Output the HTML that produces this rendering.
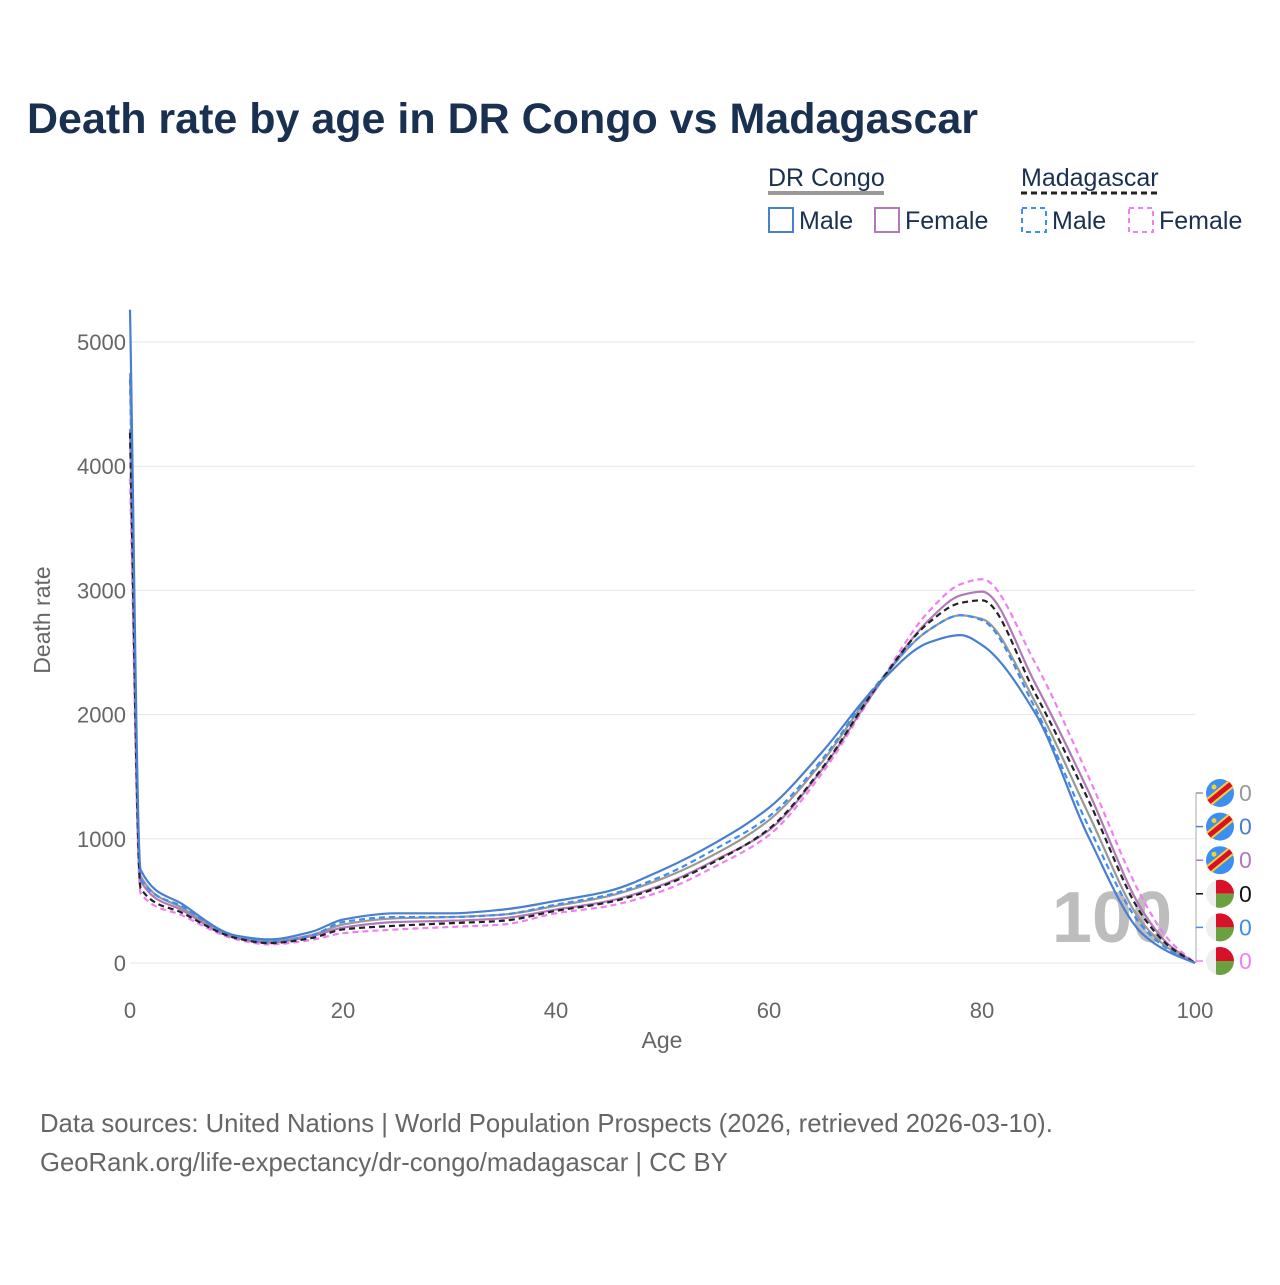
<!DOCTYPE html>
<html><head><meta charset="utf-8"><style>
body{margin:0;background:#fff;font-family:"Liberation Sans",sans-serif}
svg text{font-family:"Liberation Sans",sans-serif}
</style></head><body>
<svg id="c" width="1280" height="1280" viewBox="0 0 1280 1280" xmlns="http://www.w3.org/2000/svg">
<rect width="1280" height="1280" fill="#fff"/>
<text x="27" y="133" font-size="43" font-weight="bold" fill="#1a3050">Death rate by age in DR Congo vs Madagascar</text>
<g>
<text x="768" y="186" font-size="25" fill="#1a3050">DR Congo</text>
<line x1="768" y1="193" x2="884" y2="193" stroke="#999" stroke-width="4"/>
<text x="1021" y="186" font-size="25" fill="#1a3050">Madagascar</text>
<line x1="1021" y1="193" x2="1159" y2="193" stroke="#222" stroke-width="3" stroke-dasharray="6,4"/>
<rect x="769" y="208" width="24" height="24" fill="none" stroke="#4a7fd0" stroke-width="2"/>
<text x="799" y="229" font-size="25" fill="#1a3050">Male</text>
<rect x="875" y="208" width="24" height="24" fill="none" stroke="#b07ab8" stroke-width="2"/>
<text x="905" y="229" font-size="25" fill="#1a3050">Female</text>
<rect x="1022" y="208" width="24" height="24" fill="none" stroke="#3d8ef0" stroke-width="2" stroke-dasharray="5,4"/>
<text x="1052" y="229" font-size="25" fill="#1a3050">Male</text>
<rect x="1129" y="208" width="24" height="24" fill="none" stroke="#f07ff0" stroke-width="2" stroke-dasharray="5,4"/>
<text x="1159" y="229" font-size="25" fill="#1a3050">Female</text>
</g>
<g id="grid"></g>
<text x="1112" y="942" font-size="72" font-weight="bold" fill="#bdbdbd" text-anchor="middle">100</text>
<g id="lines"></g>
<g id="side"></g>
<text x="662" y="1048" font-size="23" fill="#666" text-anchor="middle">Age</text>
<text transform="translate(50,620) rotate(-90)" font-size="23" fill="#666" text-anchor="middle">Death rate</text>
<text x="40" y="1132" font-size="25.7" fill="#666">Data sources: United Nations | World Population Prospects (2026, retrieved 2026-03-10).</text>
<text x="40" y="1171" font-size="25.7" fill="#666">GeoRank.org/life-expectancy/dr-congo/madagascar | CC BY</text>
</svg>
<script>
const ages=[0,1,5,10,13,17,20,25,30,35,40,45,50,55,60,65,70,75,78,80,85,90,95,97.5,100];
const drcMale=[5260,750,470,220,190,250,350,400,400,430,500,580,750,970,1250,1700,2220,2580,2640,2560,2010,1015,240,90,0];
const drcTotal=[4750,700,440,210,175,225,310,360,370,390,460,540,680,880,1150,1620,2220,2680,2800,2770,2100,1200,330,120,0];
const drcFemale=[4300,660,420,200,165,215,285,330,340,360,430,500,630,830,1070,1560,2200,2760,2960,2990,2250,1380,430,150,0];
const madTotal=[4270,600,400,200,160,200,270,300,320,340,420,490,620,820,1080,1570,2210,2740,2900,2920,2170,1310,390,140,0];
const madMale=[4700,680,450,210,170,220,330,370,370,390,470,550,700,920,1180,1640,2230,2680,2800,2760,2050,1100,300,110,0];
const madFemale=[3900,560,380,190,150,185,240,270,290,310,400,460,580,780,1030,1530,2200,2830,3050,3090,2415,1500,530,190,0];
const yTicks=[0,1000,2000,3000,4000,5000];
const xTicks=[0,20,40,60,80,100];
const NS="http://www.w3.org/2000/svg";
const X=a=>130+a*10.65, Y=v=>963-v*0.1242;
function mk(t,at,p){const e=document.createElementNS(NS,t);for(const k in at)e.setAttribute(k,at[k]);p.appendChild(e);return e;}
const grid=document.getElementById('grid');
yTicks.forEach(v=>{const l=mk('line',{x1:130,x2:1195,y1:Y(v),y2:Y(v),stroke:'#e6e6e6','stroke-width':1},grid);


const t=mk('text',{x:126,y:Y(v)+8,'font-size':22,fill:'#666','text-anchor':'end'},grid);t.textContent=v;

});
xTicks.forEach(a=>{const t=mk('text',{x:X(a),y:1018,'font-size':22,fill:'#666','text-anchor':'middle'},grid);t.textContent=a;

});
function path(vals){const p=ages.map((a,i)=>[X(a),Y(vals[i])]);const n=p.length;
const d=[],m=new Array(n);for(let i=0;i<n-1;i++)d.push((p[i+1][1]-p[i][1])/(p[i+1][0]-p[i][0]));
m[0]=d[0];m[n-1]=d[n-2];
for(let i=1;i<n-1;i++){if(d[i-1]*d[i]<=0)m[i]=0;else{const h0=p[i][0]-p[i-1][0],h1=p[i+1][0]-p[i][0];
const w1=2*h1+h0,w2=h1+2*h0;m[i]=(w1+w2)/(w1/d[i-1]+w2/d[i]);}}
let s='M'+p[0][0]+','+p[0][1];
for(let i=0;i<n-1;i++){const h=(p[i+1][0]-p[i][0])/3;
s+=` C${p[i][0]+h},${p[i][1]+m[i]*h} ${p[i+1][0]-h},${p[i+1][1]-m[i+1]*h} ${p[i+1][0]},${p[i+1][1]}`;}return s;}
const series=[
['drc-total',drcTotal,'#999',null],['mad-female',madFemale,'#f07ff0','6,4'],['drc-female',drcFemale,'#b07ab8',null],
['mad-male',madMale,'#3d8ef0','6,4'],['mad-total',madTotal,'#222','6,4'],['drc-male',drcMale,'#4a7fd0',null]];
const lg=document.getElementById('lines');
series.forEach(s=>{const at={d:path(s[1]),fill:'none',stroke:s[2],'stroke-width':2.2};if(s[3])at['stroke-dasharray']=s[3];
const e=mk('path',at,lg);

});
const side=document.getElementById('side');
const sideItems=[['drc','#999'],['drc','#4a7fd0'],['drc','#b07ab8'],['mad','#111'],['mad','#3d8ef0'],['mad','#f07ff0']];
mk('line',{x1:1196,x2:1196,y1:793,y2:963,stroke:'#aaa','stroke-width':1},side);
sideItems.forEach((s,i)=>{const cy=793+i*33.6;
mk('line',{x1:1196,x2:1203,y1:cy,y2:cy,stroke:s[1],'stroke-width':1.5},side);
const g=mk('g',{},side);


const cx=1220;
if(s[0]==='drc'){mk('circle',{cx:cx,cy:cy,r:14,fill:'#3c8ef0'},g);
mk('line',{x1:cx-11,y1:cy+9,x2:cx+11,y2:cy-9,stroke:'#f5d030','stroke-width':9},g);
mk('line',{x1:cx-11,y1:cy+9,x2:cx+11,y2:cy-9,stroke:'#d8102a','stroke-width':5},g);
mk('circle',{cx:cx-6,cy:cy-6,r:2.5,fill:'#f5d030'},g);}
else{mk('circle',{cx:cx,cy:cy,r:14,fill:'#eee'},g);
mk('path',{d:`M${cx-4},${cy-13.4} A14,14 0 0 1 ${cx+14},${cy} L${cx-4},${cy} Z`,fill:'#d8102a'},g);
mk('path',{d:`M${cx-4},${cy} L${cx+14},${cy} A14,14 0 0 1 ${cx-4},${cy+13.4} Z`,fill:'#6aa040'},g);}
const t=mk('text',{x:1239,y:cy+8,'font-size':23,fill:s[1]},g);t.textContent='0';});
</script>
</body></html>
